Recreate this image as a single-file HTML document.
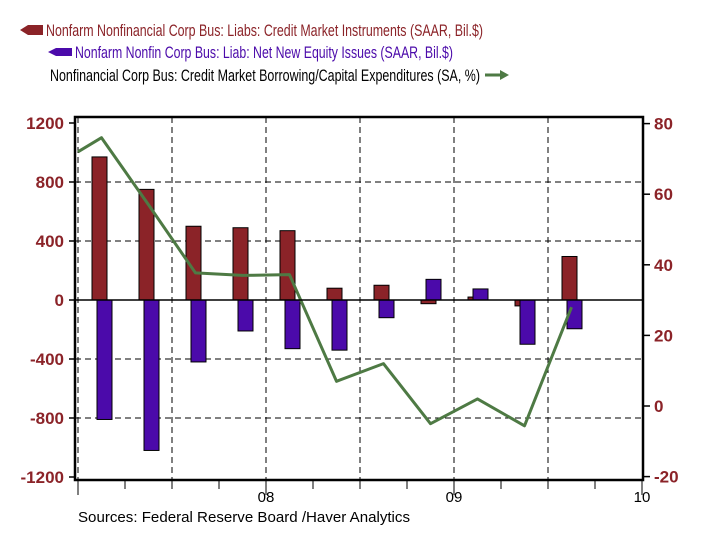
<!DOCTYPE html>
<html><head><meta charset="utf-8"><style>
body{margin:0;background:#fff;}
svg{display:block;font-family:"Liberation Sans",sans-serif;}
</style></head><body>
<svg id="chart" width="711" height="552">
<g id="legend">
  <g>
    <polygon points="20,30 28,25 43,25 43,35 28,35" fill="#8B2328"/>
    <text x="46" y="36" font-size="17" fill="#8B2328" textLength="437" lengthAdjust="spacingAndGlyphs">Nonfarm Nonfinancial Corp Bus: Liabs: Credit Market Instruments (SAAR, Bil.$)</text>
  </g>
  <g>
    <polygon points="48,52 56,48 72,48 72,56 56,56" fill="#4B0AAA"/>
    <text x="75" y="58" font-size="17" fill="#4B0AAA" textLength="378" lengthAdjust="spacingAndGlyphs">Nonfarm Nonfin Corp Bus: Liab: Net New Equity Issues (SAAR, Bil.$)</text>
  </g>
  <g>
    <text x="50" y="81" font-size="17" fill="#000" textLength="430" lengthAdjust="spacingAndGlyphs">Nonfinancial Corp Bus: Credit Market Borrowing/Capital Expenditures (SA, %)</text>
    <line x1="485" y1="75" x2="502" y2="75" stroke="#4E7A44" stroke-width="3"/>
    <polygon points="500,70 509,75 500,80" fill="#4E7A44"/>
  </g>
</g>
<g id="grid"></g>
<g id="bars"></g>
<g id="line"></g>
<g id="axes"></g>
<text x="78" y="522" font-size="15" fill="#000" textLength="332" lengthAdjust="spacingAndGlyphs">Sources:  Federal Reserve Board /Haver Analytics</text>
</svg>
<script>
const quarters=["07Q1","07Q2","07Q3","07Q4","08Q1","08Q2","08Q3","08Q4","09Q1","09Q2","09Q3"];
const creditValues=[970,750,500,490,470,80,100,-25,20,-40,295];
const equityValues=[-810,-1020,-420,-210,-330,-340,-120,140,75,-300,-195];
const ratioStart=72;
const ratioValues=[76,57,37.7,37,37.2,7,12,-5,2,-5.6,28];
const leftTicks=[-1200,-800,-400,0,400,800,1200];
const rightTicks=[-20,0,20,40,60,80];
const yearLabels=["08","09","10"];

const NS="http://www.w3.org/2000/svg";
const X0=78,QW=47,L=75,R=643,T=117,B=480;
const xq=i=>X0+QW*(i+0.5);
const yL=v=>300-v*(177/1200);
const yR=v=>406-v*(353/100);
function mk(tag,attrs,parent,txt){const e=document.createElementNS(NS,tag);for(const k in attrs)e.setAttribute(k,attrs[k]);if(txt!==undefined)e.textContent=txt;parent.appendChild(e);return e;}
const grid=document.getElementById('grid'),bars=document.getElementById('bars'),line=document.getElementById('line'),axes=document.getElementById('axes');

leftTicks.forEach(v=>{
  if(v!==1200&&v!==-1200){const g=mk('line',{x1:L,x2:R,y1:yL(v),y2:yL(v),stroke:'#000','stroke-width':1,'stroke-dasharray':'6,4'},grid);
  
  }
  const t=mk('text',{x:64,y:yL(v)+6,'text-anchor':'end','font-size':17,'font-weight':'bold',fill:'#8B2328'},axes,String(v));
  
  
  mk('line',{x1:69,x2:L,y1:yL(v),y2:yL(v),stroke:'#000','stroke-width':1.5},axes);
});
rightTicks.forEach(v=>{
  const t=mk('text',{x:654,y:yR(v)+6,'font-size':17,'font-weight':'bold',fill:'#8B2328'},axes,String(v));
  
  
  mk('line',{x1:R,x2:650,y1:yR(v),y2:yR(v),stroke:'#000','stroke-width':1.5},axes);
});
for(let i=0;i<=12;i++){
  const x=X0+QW*i;
  if(i%2===0&&i<12){const g=mk('line',{x1:x,x2:x,y1:T,y2:B,stroke:'#000','stroke-width':1,'stroke-dasharray':'6,4'},grid);
  
  }
  const long=(i%4===0);
  mk('line',{x1:x,x2:x,y1:B,y2:B+(long?15:9),stroke:'#000','stroke-width':1},axes);
}
yearLabels.forEach((lab,k)=>{
  const t=mk('text',{x:X0+QW*4*(k+1),y:502,'text-anchor':'middle','font-size':15,fill:'#000'},axes,lab);
  
  
});
quarters.forEach((q,i)=>{
  const c=xq(i);
  const v=creditValues[i];
  const r=mk('rect',{x:c-9.5,y:Math.min(yL(v),yL(0)),width:15,height:Math.max(Math.abs(yL(v)-yL(0)),1),fill:'#8B2328',stroke:'#000','stroke-width':1},bars);
  
  
  const w=equityValues[i];
  const b=mk('rect',{x:c-4.5,y:Math.min(yL(w),yL(0)),width:15,height:Math.max(Math.abs(yL(w)-yL(0)),1),fill:'#4B0AAA',stroke:'#000','stroke-width':1},bars);
  
  
});
mk('line',{x1:L,x2:R,y1:yL(0),y2:yL(0),stroke:'#000','stroke-width':1.5},axes);
let pts=[X0+','+yR(ratioStart)];
ratioValues.forEach((v,i)=>pts.push(xq(i)+','+yR(v)));
const pl=mk('polyline',{points:pts.join(' '),fill:'none',stroke:'#4E7A44','stroke-width':3,'stroke-linejoin':'round'},line);


const fr=mk('rect',{x:L,y:T,width:R-L,height:B-T,fill:'none',stroke:'#000','stroke-width':2.5},axes);


</script>
</body></html>
